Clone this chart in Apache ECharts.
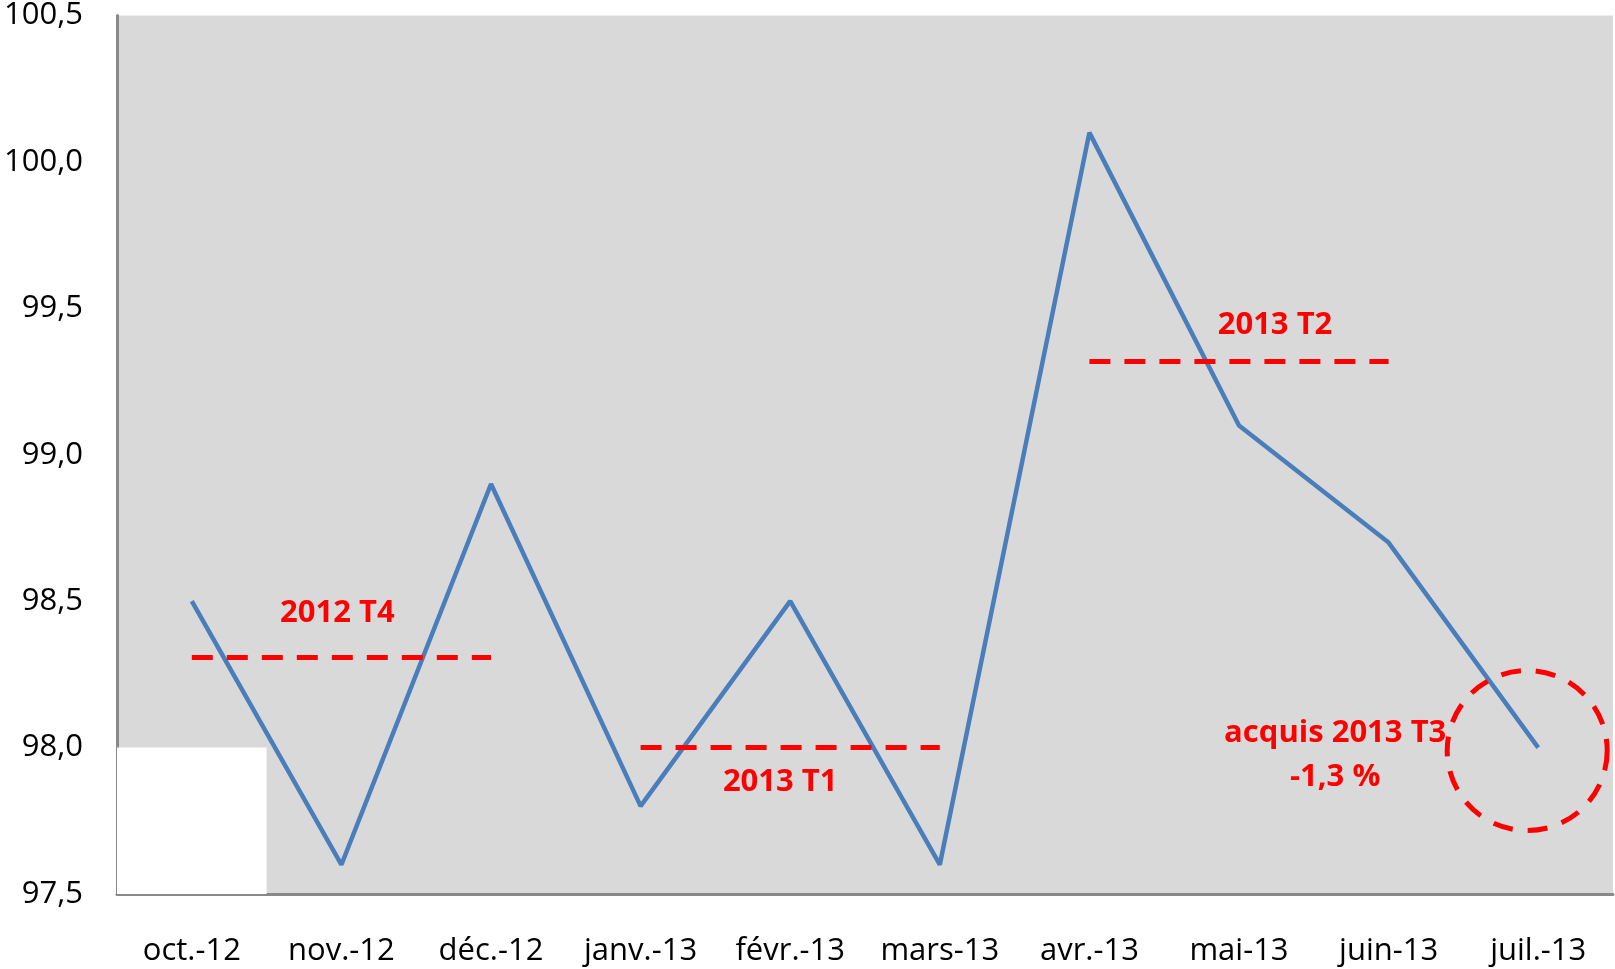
<!DOCTYPE html>
<html>
<head>
<meta charset="utf-8">
<script src="https://cdn.jsdelivr.net/npm/echarts@6/dist/echarts.min.js"></script>
<style>
  html, body { margin: 0; padding: 0; background: #fff; }
  #chart { width: 1615px; height: 969px; }
</style>
</head>
<body>
<div id="chart"></div>
<script>
// mois et indice
var months = ['oct.-12', 'nov.-12', 'déc.-12', 'janv.-13', 'févr.-13', 'mars-13', 'avr.-13', 'mai-13', 'juin-13', 'juil.-13']
var values = [98.5, 97.6, 98.9, 97.8, 98.5, 97.6, 100.1, 99.1, 98.7, 98.0]

// moyennes trimestrielles
var quarters = ['2012 T4', '2013 T1', '2013 T2']
var quarterStart = ['oct.-12', 'janv.-13', 'avr.-13']
var quarterEnd = ['déc.-12', 'mars-13', 'juin-13']
var quarterAvg = [98.31, 98.0, 99.32]

// bloc blanc en bas à gauche
var whiteBlock = [98.0, null, null, null, null, null, null, null, null, null]

var yTicks = [97.5, 98.0, 98.5, 99.0, 99.5, 100.0, 100.5]

var red = '#ff0000'
var font = '"Open Sans", "Noto Sans", sans-serif'

// placement des étiquettes des trimestres
var labelPos = ['insideMiddleTop', 'insideMiddleBottom', 'insideMiddleTop']
var labelDist = [28, 19, 20]
var labelPad = [[0, 8, 0, 0], [0, 20, 0, 0], [0, 0, 0, 72]]

var markLines = []
for (var i = 0; i < quarters.length; i++) {
  markLines.push([
    {
      coord: [quarterStart[i], quarterAvg[i]],
      label: {
        show: true,
        formatter: quarters[i],
        position: labelPos[i],
        distance: labelDist[i],
        padding: labelPad[i],
        color: red,
        fontWeight: 'bold',
        fontSize: 31,
        fontFamily: font
      }
    },
    { coord: [quarterEnd[i], quarterAvg[i]] }
  ])
}

var chart = echarts.init(document.getElementById('chart'))
var option = {
  animation: false,
  grid: {
    left: 117,
    right: 2,
    top: 14,
    bottom: 75,
    show: true,
    backgroundColor: '#d9d9d9',
    borderWidth: 0
  },
  xAxis: {
    type: 'category',
    data: months,
    boundaryGap: true,
    axisLine: { lineStyle: { color: '#898989', width: 3 } },
    axisTick: { show: false },
    axisLabel: {
      interval: 0,
      margin: 42,
      color: '#000',
      fontSize: 31,
      fontFamily: font
    },
    splitLine: { show: false }
  },
  yAxis: {
    type: 'value',
    min: yTicks[0],
    max: yTicks[yTicks.length - 1],
    interval: 0.5,
    axisLine: { show: true, lineStyle: { color: '#898989', width: 3 } },
    axisTick: { show: false },
    splitLine: { show: false },
    axisLabel: {
      margin: 34,
      color: '#000',
      fontSize: 31,
      fontFamily: font,
      formatter: function (v) {
        return v.toFixed(1).replace('.', ',')
      }
    }
  },
  series: [
    {
      type: 'bar',
      data: whiteBlock,
      barWidth: '100%',
      silent: true,
      clip: true,
      itemStyle: { color: '#ffffff' },
      z: 1
    },
    {
      type: 'line',
      data: values,
      symbol: 'none',
      lineStyle: { color: '#4a7ebb', width: 4.5 },
      z: 3,
      markLine: {
        silent: true,
        symbol: 'none',
        lineStyle: { color: red, width: 5, type: [21, 14] },
        data: markLines
      },
      markPoint: {
        silent: true,
        data: [
          {
            coord: [months[9], values[9]],
            symbol: 'circle',
            symbolSize: 160,
            symbolOffset: [-11, 3],
            itemStyle: {
              color: 'rgba(0,0,0,0)',
              borderColor: red,
              borderWidth: 5,
              borderType: [20, 15]
            },
            label: {
              show: true,
              position: 'inside',
              align: 'center',
              offset: [-192, 5],
              formatter: 'acquis 2013 T3\n-1,3 %',
              color: red,
              fontWeight: 'bold',
              fontSize: 31,
              lineHeight: 44,
              fontFamily: font
            }
          }
        ]
      }
    }
  ]
}
chart.setOption(option)
</script>
</body>
</html>
